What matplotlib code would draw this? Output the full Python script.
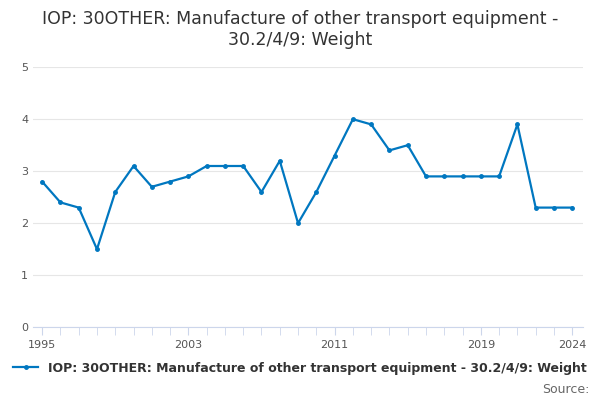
import matplotlib.pyplot as plt

years = list(range(1995, 2025))
values = [2.8, 2.4, 2.3, 1.5, 2.6, 3.1, 2.7, 2.8, 2.9, 3.1, 3.1, 3.1, 2.6, 3.2, 2.0,
          2.6, 3.3, 4.0, 3.9, 3.4, 3.5, 2.9, 2.9, 2.9, 2.9, 2.9, 3.9, 2.3, 2.3, 2.3]
label = "IOP: 30OTHER: Manufacture of other transport equipment - 30.2/4/9: Weight"
color = "#0077c0"

fig = plt.figure(figsize=(6, 4), dpi=100)
ax = fig.add_axes([0.055, 0.182, 0.917, 0.65])
ax.plot(years, values, color=color, lw=1.6, marker="o", ms=2.5, label=label)
ax.set_xlim(1994.5, 2024.6)
ax.set_ylim(0, 5)
ax.set_yticks(range(6))
ax.set_xticks([1995, 2003, 2011, 2019, 2024])
ax.set_xticks(years, minor=True)
ax.grid(axis="y", color="#e6e6e6", lw=0.8)
for s in ["top", "right", "left"]:
    ax.spines[s].set_visible(False)
ax.spines["bottom"].set_color("#ccd6eb")
ax.tick_params(axis="y", length=0, labelsize=8, colors="#555555")
ax.tick_params(axis="x", which="both", length=6, color="#ccd6eb", labelsize=8, labelcolor="#555555")
fig.suptitle("IOP: 30OTHER: Manufacture of other transport equipment -\n30.2/4/9: Weight",
             y=0.975, fontsize=12.5, color="#333333")
fig.legend(loc="lower center", bbox_to_anchor=(0.5, 0.035), frameon=False,
           prop={"size": 9, "weight": "bold"}, labelcolor="#333333", handlelength=2)
fig.text(0.982, 0.01, "Source:", ha="right", va="bottom", fontsize=9, color="#666666")
fig.savefig("out.png")
